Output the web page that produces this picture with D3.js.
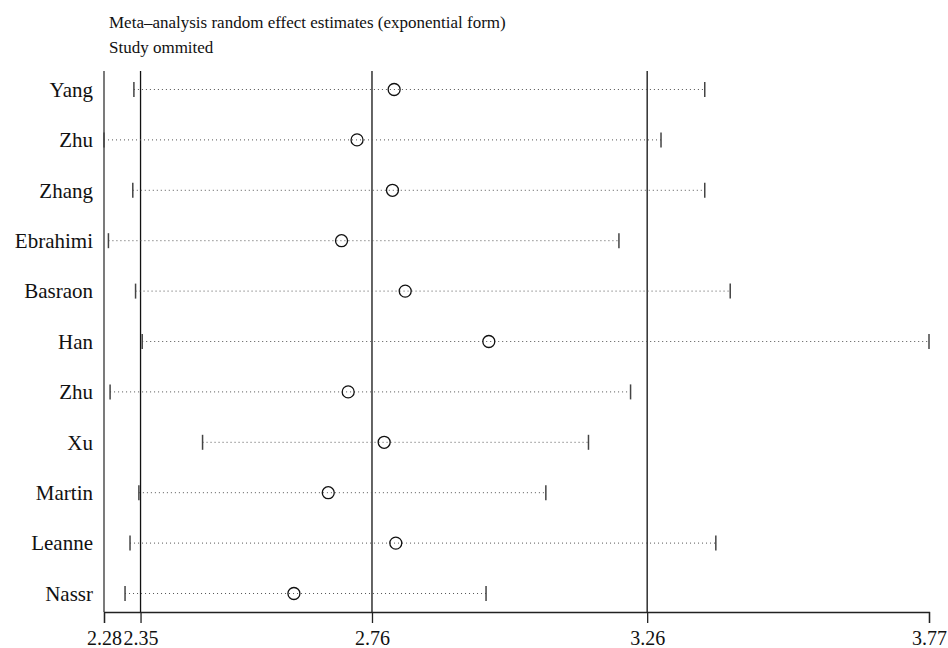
<!DOCTYPE html>
<html>
<head>
<meta charset="utf-8">
<script src="https://cdn.jsdelivr.net/npm/d3@7"></script>
<style>
  body { margin: 0; background: #fff; }
  text { font-family: "Liberation Serif", "DejaVu Serif", serif; fill: #111; }
</style>
</head>
<body>
<div id="chart"></div>
<script>
// studies omitted one at a time
var studies = ["Yang", "Zhu", "Zhang", "Ebrahimi", "Basraon", "Han", "Zhu", "Xu", "Martin", "Leanne", "Nassr"];
var estimate = [2.804, 2.737, 2.801, 2.709, 2.824, 2.975, 2.721, 2.786, 2.685, 2.807, 2.623];
var lower    = [2.334, 2.280, 2.332, 2.288, 2.337, 2.349, 2.291, 2.458, 2.343, 2.327, 2.318];
var upper    = [3.365, 3.286, 3.365, 3.210, 3.411, 3.770, 3.231, 3.155, 3.078, 3.385, 2.970];
// pooled estimate and its CI (vertical lines)
var refLines = [2.346, 2.764, 3.261];
var tickVals = [2.28, 2.346, 2.764, 3.261, 3.77];
var titleLines = ["Meta\u2013analysis random effect estimates (exponential form)", "Study ommited"];

var width = 948, height = 648;
var svg = d3.select('#chart').append('svg').attr('width', width).attr('height', height);

var plotTop = 71, plotBottom = 612;
var x = d3.scaleLinear().domain([2.28, 3.77]).range([104, 929]);
var y = d3.scalePoint().domain(d3.range(studies.length)).range([89.5, 593.5]);

// title
svg.selectAll('.title').data(titleLines).enter().append('text')
    .attr('x', 109).attr('y', function (d, i) { return 28 + i * 25; })
    .style('font-size', '17px').text(function (d) { return d; });

// left frame line
svg.append('line').attr('x1', x(2.28)).attr('x2', x(2.28)).attr('y1', plotTop).attr('y2', plotBottom)
    .style('stroke', '#333').style('stroke-width', 1.3);

// reference lines
svg.selectAll('.ref').data(refLines).enter().append('line')
    .attr('x1', function (d) { return x(d); }).attr('x2', function (d) { return x(d); })
    .attr('y1', plotTop).attr('y2', plotBottom)
    .style('stroke', '#111').style('stroke-width', 1.3);

// bottom axis
var axis = d3.axisBottom(x).tickValues(tickVals).tickFormat(d3.format('.2f'))
    .tickSizeOuter(0).tickSize(11).tickPadding(8);
var g = svg.append('g').attr('transform', 'translate(0,' + plotBottom + ')').call(axis);
g.select('.domain').style('stroke', '#222').style('stroke-width', 1.3);
g.selectAll('.tick line').style('stroke', '#222').style('stroke-width', 1.3);
g.selectAll('.tick text').style('font-size', '20px').style('font-family', '"Liberation Serif", serif').style('fill', '#111');

// rows
var rows = svg.selectAll('.row').data(studies).enter().append('g')
    .attr('transform', function (d, i) { return 'translate(0,' + y(i) + ')'; });

rows.append('text').attr('x', 93).attr('dy', '0.35em').attr('text-anchor', 'end')
    .style('font-size', '21px').text(function (d) { return d; });

rows.append('line')
    .attr('x1', function (d, i) { return x(lower[i]); })
    .attr('x2', function (d, i) { return x(upper[i]); })
    .style('stroke', '#555').style('stroke-width', 1).style('stroke-dasharray', '1,3');

rows.selectAll('.cap').data(function (d, i) { return [lower[i], upper[i]]; }).enter().append('line')
    .attr('x1', function (d) { return x(d); }).attr('x2', function (d) { return x(d); })
    .attr('y1', -7.5).attr('y2', 7.5)
    .style('stroke', '#444').style('stroke-width', 1.5);

rows.append('circle')
    .attr('cx', function (d, i) { return x(estimate[i]); }).attr('cy', 0).attr('r', 6)
    .style('fill', 'none').style('stroke', '#111').style('stroke-width', 1.3);
</script>
</body>
</html>
